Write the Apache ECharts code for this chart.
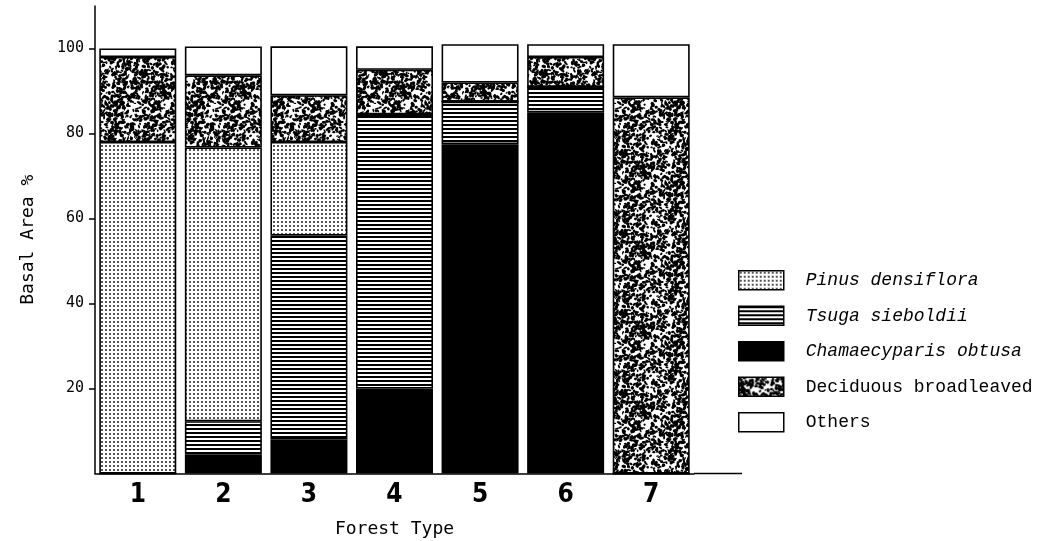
<!DOCTYPE html>
<html>
<head>
<meta charset="utf-8">
<style>html,body{margin:0;padding:0;background:#fff;}#chart{width:1044px;height:541px;}</style>
<script src="https://cdn.jsdelivr.net/npm/echarts@6/dist/echarts.min.js"></script>
</head>
<body>
<div id="chart"></div>
<script>
// ---- data ----
var categories = ['1', '2', '3', '4', '5', '6', '7'];
var chamaecyparis = [0, 4.5, 8, 20, 77.5, 85, 0];
var tsuga = [0, 7.8, 48, 64.5, 10, 6, 0];
var pinus = [78, 64.4, 22, 0, 0, 0, 0];
var deciduous = [20, 17, 11, 10.5, 4.5, 7, 88.5];
var others = [2, 6.8, 11.5, 5.5, 9, 3, 12.5];
var yTicks = [20, 40, 60, 80, 100];
var legendOrder = ['Pinus densiflora', 'Tsuga sieboldii', 'Chamaecyparis obtusa', 'Deciduous broadleaved', 'Others'];
var italicNames = ['Pinus densiflora', 'Tsuga sieboldii', 'Chamaecyparis obtusa'];

// ---- fill textures ----
function makeCanvas(w, h) { var c = document.createElement('canvas'); c.width = w; c.height = h; return c; }
function dotPattern() {
  var c = makeCanvas(4, 4), g = c.getContext('2d');
  g.fillStyle = '#fff'; g.fillRect(0, 0, 4, 4);
  g.fillStyle = '#555'; g.fillRect(1, 1, 2, 2);
  return c;
}
function stripePattern() {
  var c = makeCanvas(4, 4), g = c.getContext('2d');
  g.fillStyle = '#fff'; g.fillRect(0, 0, 4, 4);
  g.fillStyle = '#000'; g.fillRect(0, 0, 4, 2);
  return c;
}
function speckPattern() {
  var S = 80, c = makeCanvas(S, S), g = c.getContext('2d');
  g.fillStyle = '#fff'; g.fillRect(0, 0, S, S);
  g.fillStyle = '#000';
  var seed = 24680;
  function nx() { seed = (seed * 1103515245 + 12345) % 2147483648; return seed / 2147483648; }
  for (var i = 0; i < 900; i++) {
    var x = nx() * S, y = nx() * S, rx = 0.8 + nx() * 1.8, ry = 0.6 + nx() * 1.2, a = nx() * Math.PI;
    for (var dx = -S; dx <= S; dx += S) for (var dy = -S; dy <= S; dy += S) {
      g.beginPath(); g.ellipse(x + dx, y + dy, rx, ry, a, 0, Math.PI * 2); g.fill();
    }
  }
  return c;
}
var fills = {
  'Chamaecyparis obtusa': '#000',
  'Tsuga sieboldii': { image: stripePattern(), repeat: 'repeat' },
  'Pinus densiflora': { image: dotPattern(), repeat: 'repeat' },
  'Deciduous broadleaved': { image: speckPattern(), repeat: 'repeat' },
  'Others': '#fff'
};

function barSeries(name, values) {
  return {
    name: name, type: 'bar', stack: 'total', barWidth: 77, data: values,
    itemStyle: { color: fills[name], borderColor: '#000', borderWidth: 1.6 },
    emphasis: { disabled: true }, animation: false
  };
}

var chart = echarts.init(document.getElementById('chart'), null, { renderer: 'canvas' });
chart.setOption({
  backgroundColor: '#fff',
  animation: false,
  grid: { left: 95, right: 350, top: 6, bottom: 67.5, containLabel: false, outerBoundsMode: 'none' },
  legend: {
    orient: 'vertical', left: 738, top: 270, padding: 0,
    itemWidth: 45, itemHeight: 19, itemGap: 15,
    data: legendOrder.map(function (n) { return { name: n, icon: 'rect' }; }),
    itemStyle: { borderColor: '#000', borderWidth: 1.5 },
    selectedMode: false,
    formatter: function (n) { return (italicNames.indexOf(n) >= 0 ? '{i|' : '{n|') + n + '}'; },
    textStyle: {
      color: '#000', fontFamily: 'Liberation Mono', fontSize: 18,
      rich: {
        i: { fontFamily: 'Liberation Mono', fontStyle: 'italic', fontSize: 18, color: '#000', padding: [0, 0, 0, 17] },
        n: { fontFamily: 'Liberation Mono', fontSize: 18, color: '#000', padding: [0, 0, 0, 17] }
      }
    }
  },
  xAxis: {
    type: 'category', data: categories,
    axisLine: { lineStyle: { color: '#000', width: 1.5 } },
    axisTick: { show: false },
    axisLabel: { color: '#000', fontFamily: 'DejaVu Sans Condensed, Liberation Sans Narrow, sans-serif', fontWeight: 'bold', fontSize: 26, margin: 9 },
    name: 'Forest Type', nameLocation: 'middle', nameGap: 47,
    nameTextStyle: { color: '#000', fontFamily: 'DejaVu Sans Mono', fontSize: 18 }
  },
  yAxis: {
    type: 'value', min: 0, max: 110, interval: 20,
    splitLine: { show: false },
    axisLine: { show: true, lineStyle: { color: '#000', width: 1.5 } },
    axisTick: { show: true, length: 6, lineStyle: { color: '#000', width: 1.5 }, customValues: yTicks },
    axisLabel: { color: '#000', fontFamily: 'DejaVu Sans Mono', fontSize: 15, margin: 11, customValues: yTicks },
    name: 'Basal Area %', nameLocation: 'middle', nameRotate: 90, nameGap: 58,
    nameTextStyle: { color: '#000', fontFamily: 'DejaVu Sans Mono', fontSize: 18 }
  },
  graphic: [{
    type: 'line', shape: { x1: 694, y1: 473.5, x2: 742, y2: 473.5 },
    style: { stroke: '#000', lineWidth: 1.5 }, silent: true
  }],
  series: [
    barSeries('Chamaecyparis obtusa', chamaecyparis),
    barSeries('Tsuga sieboldii', tsuga),
    barSeries('Pinus densiflora', pinus),
    barSeries('Deciduous broadleaved', deciduous),
    barSeries('Others', others)
  ]
});
</script>
</body>
</html>
